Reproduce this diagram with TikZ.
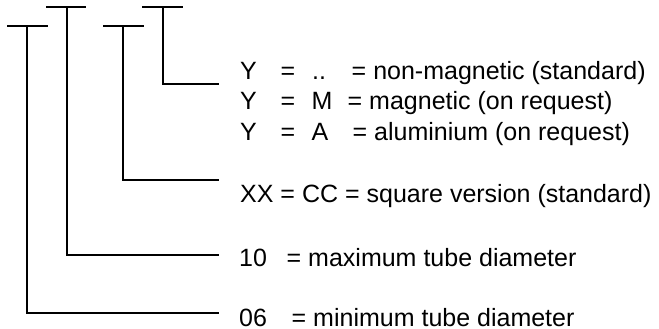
\documentclass[tikz,border=0pt]{standalone}
\usepackage{fontspec}
\setmainfont{Liberation Sans}
\begin{document}
\begin{tikzpicture}[x=1pt,y=-1pt,
  bracketline/.style={line width=1.4pt,line cap=rect},
  legend/.style={anchor=base west,inner sep=0pt,font=\fontsize{25}{30}\selectfont}]
\useasboundingbox (0,0) rectangle (659,329);
% bracket 1 (06)
\coordinate (b1l) at (8,26); \coordinate (b1r) at (47,26);
\coordinate (b1t) at (27,26); \coordinate (b1c) at (27,313); \coordinate (b1e) at (218,313);
% bracket 2 (10)
\coordinate (b2l) at (47,7); \coordinate (b2r) at (85,7);
\coordinate (b2t) at (67,7); \coordinate (b2c) at (67,255); \coordinate (b2e) at (218,255);
% bracket 3 (XX)
\coordinate (b3l) at (104,26); \coordinate (b3r) at (143,26);
\coordinate (b3t) at (123,26); \coordinate (b3c) at (123,180); \coordinate (b3e) at (218,180);
% bracket 4 (Y)
\coordinate (b4l) at (143,7); \coordinate (b4r) at (182,7);
\coordinate (b4t) at (163,7); \coordinate (b4c) at (163,84); \coordinate (b4e) at (218,84);
\foreach \i in {1,2,3,4}{
  \draw[bracketline] (b\i l) -- (b\i r);
  \draw[bracketline] (b\i t) -- (b\i c) -- (b\i e);
}
\node[legend] (y1) at (240,80) {\makebox[40.5pt][l]{Y}\makebox[31.5pt][l]{=}\makebox[39.5pt][l]{..}= non-magnetic (standard)};
\node[legend] (y2) at (240,110) {\makebox[40.5pt][l]{Y}\makebox[31pt][l]{=}\makebox[36pt][l]{M}= magnetic (on request)};
\node[legend] (y3) at (240,140) {\makebox[40.5pt][l]{Y}\makebox[31pt][l]{=}\makebox[41pt][l]{A}= aluminium (on request)};
\node[legend] (xx) at (240,202) {XX = CC = square version (standard)};
\node[legend] (d10) at (239,266) {\makebox[47.5pt][l]{10}= maximum tube diameter};
\node[legend] (d06) at (239,326) {\makebox[52.5pt][l]{06}= minimum tube diameter};
\end{tikzpicture}
\end{document}
